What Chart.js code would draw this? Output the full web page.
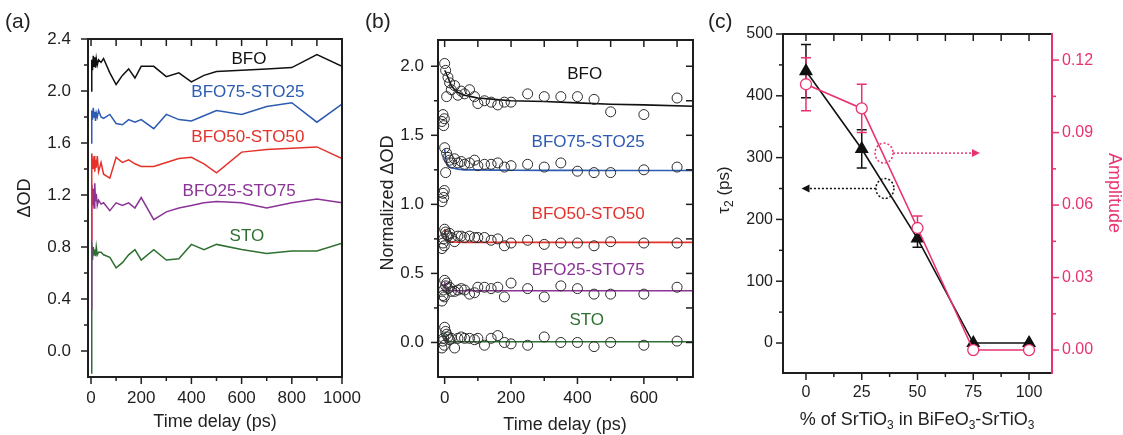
<!DOCTYPE html>
<html>
<head>
<meta charset="utf-8">
<script src="https://cdn.jsdelivr.net/npm/chart.js@4.4.1/dist/chart.umd.min.js"></script>
<style>
  html, body { margin: 0; padding: 0; background: #fff; }
  body { width: 1123px; height: 435px; position: relative; overflow: hidden; font-family: "Liberation Sans", Arial, sans-serif; }
  canvas { position: absolute; top: 0; }
  .tag { position: absolute; top: 9px; font-size: 21px; color: #222; line-height: 24px; }
</style>
</head>
<body>
<canvas id="chartA" width="372" height="435" style="left:0px"></canvas>
<canvas id="chartB" width="333" height="435" style="left:372px"></canvas>
<canvas id="chartC" width="418" height="435" style="left:705px"></canvas>
<div class="tag" style="left:5px">(a)</div>
<div class="tag" style="left:365px">(b)</div>
<div class="tag" style="left:708px">(c)</div>
<script>
const Chart = window.Chart;

// ---------- data: panel (a), raw ΔOD traces ----------
const seriesNames = ["BFO", "BFO75-STO25", "BFO50-STO50", "BFO25-STO75", "STO"];
const timeA = [0, 3, 6, 9, 12, 15, 18, 21, 25, 30, 40, 50, 75, 100, 125, 150, 175, 200, 250, 300, 350, 400, 450, 500, 600, 700, 800, 900, 1000];
const odBFO = [2.00, 2.24, 2.16, 2.27, 2.19, 2.26, 2.18, 2.25, 2.20, 2.24, 2.22, 2.25, 2.14, 2.05, 2.12, 2.17, 2.10, 2.19, 2.19, 2.11, 2.14, 2.07, 2.12, 2.15, 2.16, 2.17, 2.18, 2.28, 2.19];
const odBFO75 = [1.60, 1.85, 1.78, 1.87, 1.80, 1.84, 1.77, 1.83, 1.80, 1.85, 1.80, 1.79, 1.82, 1.75, 1.74, 1.78, 1.76, 1.78, 1.71, 1.82, 1.78, 1.77, 1.81, 1.85, 1.82, 1.88, 1.91, 1.76, 1.90];
const odBFO50 = [0.85, 1.52, 1.45, 1.40, 1.50, 1.38, 1.47, 1.41, 1.50, 1.38, 1.45, 1.36, 1.33, 1.49, 1.45, 1.47, 1.44, 1.42, 1.42, 1.45, 1.48, 1.49, 1.44, 1.37, 1.53, 1.55, 1.56, 1.57, 1.48];
const odBFO25 = [0.32, 1.28, 1.12, 1.25, 1.10, 1.29, 1.15, 1.21, 1.12, 1.16, 1.13, 1.14, 1.08, 1.14, 1.12, 1.14, 1.10, 1.18, 1.01, 1.07, 1.10, 1.12, 1.14, 1.15, 1.14, 1.10, 1.14, 1.17, 1.14];
const odSTO = [-0.17, 0.84, 0.70, 0.80, 0.74, 0.78, 0.73, 0.80, 0.74, 0.76, 0.76, 0.74, 0.72, 0.64, 0.68, 0.74, 0.78, 0.70, 0.78, 0.70, 0.71, 0.82, 0.78, 0.82, 0.78, 0.75, 0.77, 0.77, 0.83];
const xTicksA = [0, 200, 400, 600, 800, 1000];
const xMinorA = [100, 300, 500, 700, 900];
const yTicksA = [0.0, 0.4, 0.8, 1.2, 1.6, 2.0, 2.4];
const yMinorA = [0.2, 0.6, 1.0, 1.4, 1.8, 2.2];

// ---------- data: panel (b), normalized ΔOD + fits ----------
const timeB = [-8, -5, -3, -1, 0, 3, 6, 10, 15, 20, 30, 40, 50, 60, 75, 90, 100, 120, 140, 160, 180, 200, 250, 300, 350, 400, 450, 500, 600, 700];
const circBFO = [1.60, 1.65, 1.57, 1.62, 2.02, 1.97, 1.78, 1.92, 1.88, 1.83, 1.86, 1.79, 1.82, 1.80, 1.83, 1.78, 1.73, 1.75, 1.74, 1.72, 1.74, 1.74, 1.80, 1.78, 1.78, 1.78, 1.76, 1.67, 1.65, 1.77];
const circBFO75 = [1.02, 1.08, 1.05, 1.10, 1.41, 1.23, 1.37, 1.34, 1.32, 1.30, 1.33, 1.30, 1.31, 1.29, 1.30, 1.32, 1.28, 1.29, 1.29, 1.30, 1.27, 1.28, 1.29, 1.27, 1.30, 1.24, 1.23, 1.23, 1.25, 1.27];
const circBFO50 = [0.68, 0.72, 0.75, 0.70, 0.82, 0.80, 0.78, 0.77, 0.79, 0.76, 0.73, 0.77, 0.77, 0.76, 0.77, 0.76, 0.76, 0.76, 0.74, 0.75, 0.70, 0.72, 0.74, 0.71, 0.72, 0.72, 0.70, 0.73, 0.72, 0.72];
const circBFO25 = [0.30, 0.34, 0.38, 0.33, 0.45, 0.41, 0.43, 0.39, 0.40, 0.37, 0.37, 0.38, 0.39, 0.38, 0.35, 0.36, 0.40, 0.40, 0.39, 0.40, 0.33, 0.43, 0.39, 0.33, 0.41, 0.39, 0.35, 0.35, 0.35, 0.40];
const circSTO = [-0.04, 0.01, 0.03, -0.02, 0.11, 0.08, 0.06, 0.04, 0.02, 0.03, -0.04, 0.03, 0.04, 0.03, 0.03, 0.02, 0.03, -0.02, 0.03, 0.05, 0.00, -0.01, -0.02, 0.04, 0.00, 0.00, -0.03, 0.00, -0.02, 0.01];
const fitTime = [0, 3, 6, 10, 15, 20, 30, 40, 60, 80, 100, 150, 200, 300, 400, 500, 600, 748];
const fitBFO = [1.97, 1.96, 1.94, 1.92, 1.89, 1.86, 1.83, 1.81, 1.79, 1.78, 1.77, 1.76, 1.75, 1.745, 1.735, 1.725, 1.72, 1.71];
const fitBFO75 = [1.40, 1.34, 1.30, 1.28, 1.27, 1.265, 1.26, 1.255, 1.25, 1.25, 1.25, 1.248, 1.247, 1.246, 1.246, 1.245, 1.245, 1.245];
const fitBFO50 = [0.82, 0.77, 0.745, 0.735, 0.73, 0.728, 0.727, 0.726, 0.725, 0.725, 0.725, 0.725, 0.725, 0.725, 0.725, 0.725, 0.725, 0.725];
const fitBFO25 = [0.44, 0.40, 0.385, 0.38, 0.377, 0.376, 0.375, 0.375, 0.375, 0.375, 0.375, 0.375, 0.375, 0.375, 0.375, 0.375, 0.375, 0.375];
const fitSTO = [0.06, 0.03, 0.015, 0.01, 0.007, 0.006, 0.005, 0.005, 0.005, 0.005, 0.005, 0.005, 0.005, 0.005, 0.005, 0.005, 0.005, 0.005];
const xTicksB = [0, 200, 400, 600];
const xMinorB = [100, 300, 500, 700];
const yTicksB = [0.0, 0.5, 1.0, 1.5, 2.0];
const yMinorB = [0.25, 0.75, 1.25, 1.75];

// ---------- data: panel (c), tau2 and amplitude vs STO fraction ----------
const pctSTO = [0, 25, 50, 75, 100];
const tau2 = [440, 314, 169, 0, 0];
const tau2Err = [43, 31, 14, 0, 0];
const amplitude = [0.110, 0.100, 0.0505, 0.0, 0.0];
const amplitudeErr = [0.011, 0.010, 0.005, 0, 0];
const xTicksC = [0, 25, 50, 75, 100];
const xMinorC = [12.5, 37.5, 62.5, 87.5];
const yTicksC = [0, 100, 200, 300, 400, 500];
const yMinorC = [50, 150, 250, 350, 450];
const y1TicksC = [0.0, 0.03, 0.06, 0.09, 0.12];
const y1MinorC = [0.015, 0.045, 0.075, 0.105];

// ---------- styling ----------
const FONT = '"Liberation Sans", Arial, sans-serif';
const INK = "#1e1e1e";
const PINK = "#e8336f";
const COLORS = ["#111111", "#2c5bb3", "#e4322b", "#8b3396", "#2e7031"];

const pts = (xs, ys) => xs.map((x, i) => ({ x, y: ys[i] }));

function linearAxis({ min, max, ticks, fmt, size, pad, horizontal = false, position, color = INK, fontSize = 17 }) {
  return {
    type: "linear",
    position,
    min,
    max,
    grid: { display: false, drawTicks: false },
    border: { display: false },
    afterBuildTicks: (s) => { s.ticks = ticks.map((v) => ({ value: v })); },
    afterFit: (s) => { if (horizontal) s.height = size; else s.width = size; },
    ticks: { padding: pad, color, autoSkip: false, maxRotation: 0, font: { family: FONT, size: fontSize }, callback: fmt },
  };
}

// box frame + major/minor tick marks, drawn through the scales
const frameTicks = {
  id: "frameTicks",
  afterDatasetsDraw(chart, args, opts) {
    const { ctx, chartArea: a } = chart;
    ctx.save();
    for (const side of opts.sides || []) {
      const s = chart.scales[side.scale];
      const vertical = side.pos === "left" || side.pos === "right";
      const edge = a[side.pos];
      const outSign = side.pos === "left" || side.pos === "top" ? -1 : 1;
      const sign = side.inward ? -outSign : outSign;
      ctx.strokeStyle = side.color || INK;
      ctx.lineWidth = 2;
      ctx.beginPath();
      if (vertical) { ctx.moveTo(edge, a.top - 1); ctx.lineTo(edge, a.bottom + 1); }
      else { ctx.moveTo(a.left - 1, edge); ctx.lineTo(a.right + 1, edge); }
      ctx.stroke();
      ctx.lineWidth = 1.5;
      const mark = (vals, len) => {
        for (const v of vals || []) {
          const p = s.getPixelForValue(v);
          ctx.beginPath();
          if (vertical) { ctx.moveTo(edge, p); ctx.lineTo(edge + sign * len, p); }
          else { ctx.moveTo(p, edge); ctx.lineTo(p, edge + sign * len); }
          ctx.stroke();
        }
      };
      mark(side.major, 7);
      mark(side.minor, 4);
    }
    ctx.restore();
  },
};

// sample names written inside the plot, anchored in data units
const seriesText = {
  id: "seriesText",
  afterDatasetsDraw(chart, args, opts) {
    const { ctx, scales } = chart;
    ctx.save();
    ctx.font = `17px ${FONT}`;
    ctx.textAlign = "center";
    ctx.textBaseline = "middle";
    for (const it of opts.items || []) {
      ctx.fillStyle = it.color;
      ctx.fillText(it.text, scales.x.getPixelForValue(it.x), scales.y.getPixelForValue(it.y));
    }
    ctx.restore();
  },
};

// axis titles with optional subscripts, offset from the chart area corner
const richTitles = {
  id: "richTitles",
  afterDraw(chart, args, opts) {
    const { ctx, chartArea: a } = chart;
    for (const t of opts.items || []) {
      const size = t.size || 18;
      const fontFor = (sub) => `${sub ? Math.round(size * 0.68) : size}px ${FONT}`;
      ctx.save();
      let total = 0;
      for (const [txt, sub] of t.parts) { ctx.font = fontFor(sub); total += ctx.measureText(txt).width; }
      ctx.translate(a.left + t.dx, a.top + t.dy);
      ctx.rotate(((t.rot || 0) * Math.PI) / 180);
      ctx.fillStyle = t.color || "#222";
      ctx.textAlign = "left";
      ctx.textBaseline = "middle";
      let x = -total / 2;
      for (const [txt, sub] of t.parts) {
        ctx.font = fontFor(sub);
        ctx.fillText(txt, x, sub ? size * 0.32 : 0);
        x += ctx.measureText(txt).width;
      }
      ctx.restore();
    }
  },
};

const errorBars = {
  id: "errorBars",
  beforeDatasetsDraw(chart, args, opts) {
    const { ctx, scales } = chart;
    ctx.save();
    ctx.lineWidth = 1.5;
    for (const b of opts.bars || []) {
      const ys = scales[b.axis];
      ctx.strokeStyle = b.color;
      b.x.forEach((xv, i) => {
        const e = b.err[i];
        if (!e) return;
        const px = scales.x.getPixelForValue(xv);
        const top = ys.getPixelForValue(b.y[i] + e);
        const bot = ys.getPixelForValue(b.y[i] - e);
        ctx.beginPath();
        ctx.moveTo(px, top); ctx.lineTo(px, bot);
        ctx.moveTo(px - 5, top); ctx.lineTo(px + 5, top);
        ctx.moveTo(px - 5, bot); ctx.lineTo(px + 5, bot);
        ctx.stroke();
      });
    }
    ctx.restore();
  },
};

// dotted circle + dotted arrow telling which axis a curve belongs to
const pointers = {
  id: "pointers",
  afterDatasetsDraw(chart, args, opts) {
    const { ctx, scales } = chart;
    for (const p of opts.items || []) {
      const ys = scales[p.axis];
      const cx = scales.x.getPixelForValue(p.x);
      const cy = ys.getPixelForValue(p.y);
      const tip = scales.x.getPixelForValue(p.toX);
      const dir = Math.sign(tip - cx);
      ctx.save();
      ctx.strokeStyle = p.color;
      ctx.fillStyle = p.color;
      ctx.lineWidth = 1.5;
      ctx.setLineDash([2, 2]);
      ctx.beginPath();
      ctx.ellipse(cx, cy, 9, 10, 0, 0, Math.PI * 2);
      ctx.stroke();
      ctx.beginPath();
      ctx.moveTo(cx + dir * 9, cy);
      ctx.lineTo(tip - dir * 7, cy);
      ctx.stroke();
      ctx.setLineDash([]);
      ctx.beginPath();
      ctx.moveTo(tip, cy);
      ctx.lineTo(tip - dir * 8, cy - 4);
      ctx.lineTo(tip - dir * 8, cy + 4);
      ctx.closePath();
      ctx.fill();
      ctx.restore();
    }
  },
};

const base = {
  responsive: false,
  animation: false,
  devicePixelRatio: 1,
};
const quiet = { legend: { display: false }, tooltip: { enabled: false } };
const fmt1 = (v) => Number(v).toFixed(1);
const fmt0 = (v) => String(v);

// ---------- (a) ----------
new Chart(document.getElementById("chartA"), {
  type: "line",
  data: {
    datasets: [odBFO, odBFO75, odBFO50, odBFO25, odSTO].map((vals, i) => ({
      label: seriesNames[i],
      data: pts(timeA, vals),
      borderColor: COLORS[i],
      borderWidth: 1.5,
      pointRadius: 0,
      tension: 0,
    })),
  },
  options: {
    ...base,
    layout: { padding: { top: 39, right: 30, left: 0, bottom: 0 } },
    scales: {
      x: linearAxis({ min: -12, max: 1000, ticks: xTicksA, fmt: fmt0, size: 58, pad: 11, horizontal: true }),
      y: linearAxis({ min: -0.2, max: 2.4, ticks: yTicksA, fmt: fmt1, size: 88, pad: 17 }),
    },
    plugins: {
      ...quiet,
      frameTicks: {
        sides: [
          { pos: "left", scale: "y", major: yTicksA, minor: yMinorA },
          { pos: "bottom", scale: "x", major: xTicksA, minor: xMinorA },
          { pos: "top", scale: "x", inward: true, major: xTicksA.concat(xMinorA) },
          { pos: "right", scale: "y" },
        ],
      },
      seriesText: {
        items: [
          { text: seriesNames[0], x: 629, y: 2.245, color: COLORS[0] },
          { text: seriesNames[1], x: 625, y: 1.99, color: COLORS[1] },
          { text: seriesNames[2], x: 625, y: 1.64, color: COLORS[2] },
          { text: seriesNames[3], x: 590, y: 1.23, color: COLORS[3] },
          { text: seriesNames[4], x: 621, y: 0.885, color: COLORS[4] },
        ],
      },
      richTitles: {
        items: [
          { parts: [["ΔOD"]], dx: -63, dy: 159, rot: -90 },
          { parts: [["Time delay (ps)"]], dx: 127, dy: 383 },
        ],
      },
    },
  },
  plugins: [frameTicks, seriesText, richTitles],
});

// ---------- (b) ----------
const circleSets = [circBFO, circBFO75, circBFO50, circBFO25, circSTO];
const fitSets = [fitBFO, fitBFO75, fitBFO50, fitBFO25, fitSTO];
new Chart(document.getElementById("chartB"), {
  type: "scatter",
  data: {
    datasets: [
      ...circleSets.map((vals, i) => ({
        label: seriesNames[i] + " data",
        data: pts(timeB, vals),
        pointRadius: 5,
        pointBorderWidth: 1,
        pointBorderColor: "#2a2a2a",
        pointBackgroundColor: "rgba(255,255,255,0)",
        showLine: false,
      })),
      ...fitSets.map((vals, i) => ({
        label: seriesNames[i] + " fit",
        data: pts(fitTime, vals),
        borderColor: COLORS[i],
        borderWidth: 1.6,
        pointRadius: 0,
        showLine: true,
        tension: 0,
      })),
    ],
  },
  options: {
    ...base,
    layout: { padding: { top: 40, right: 12, left: 0, bottom: 0 } },
    scales: {
      x: linearAxis({ min: -20, max: 748, ticks: xTicksB, fmt: fmt0, size: 58, pad: 11, horizontal: true }),
      y: linearAxis({ min: -0.25, max: 2.19, ticks: yTicksB, fmt: fmt1, size: 66, pad: 14 }),
    },
    plugins: {
      ...quiet,
      frameTicks: {
        sides: [
          { pos: "left", scale: "y", major: yTicksB, minor: yMinorB },
          { pos: "right", scale: "y", inward: true, major: yTicksB.concat(yMinorB) },
          { pos: "bottom", scale: "x", major: xTicksB, minor: xMinorB },
          { pos: "top", scale: "x", inward: true, major: xTicksB.concat(xMinorB) },
        ],
      },
      seriesText: {
        items: [
          { text: seriesNames[0], x: 422, y: 1.94, color: COLORS[0] },
          { text: seriesNames[1], x: 432, y: 1.45, color: COLORS[1] },
          { text: seriesNames[2], x: 432, y: 0.93, color: COLORS[2] },
          { text: seriesNames[3], x: 432, y: 0.525, color: COLORS[3] },
          { text: seriesNames[4], x: 428, y: 0.16, color: COLORS[4] },
        ],
      },
      richTitles: {
        items: [
          { parts: [["Normalized ΔOD"]], dx: -50, dy: 163, rot: -90 },
          { parts: [["Time delay (ps)"]], dx: 127, dy: 385 },
        ],
      },
    },
  },
  plugins: [frameTicks, seriesText, richTitles],
});

// ---------- (c) ----------
new Chart(document.getElementById("chartC"), {
  type: "line",
  data: {
    datasets: [
      {
        label: "Amplitude",
        yAxisID: "y1",
        data: pts(pctSTO, amplitude),
        borderColor: PINK,
        borderWidth: 1.6,
        pointStyle: "circle",
        pointRadius: 5.5,
        pointBorderWidth: 1.3,
        pointBorderColor: PINK,
        pointBackgroundColor: "#fff",
        tension: 0,
      },
      {
        label: "tau2",
        yAxisID: "y",
        data: pts(pctSTO, tau2),
        borderColor: "#111",
        borderWidth: 1.6,
        pointStyle: "triangle",
        pointRadius: 6.5,
        pointBorderColor: "#111",
        pointBackgroundColor: "#111",
        tension: 0,
      },
    ],
  },
  options: {
    ...base,
    layout: { padding: { top: 34, right: 0, left: 0, bottom: 0 } },
    scales: {
      x: linearAxis({ min: -10.3, max: 110.3, ticks: xTicksC, fmt: fmt0, size: 62, pad: 10, horizontal: true, fontSize: 16 }),
      y: linearAxis({ min: -48.5, max: 500, ticks: yTicksC, fmt: fmt0, size: 78, pad: 10, position: "left", fontSize: 16 }),
      y1: linearAxis({ min: -0.0095, max: 0.1308, ticks: y1TicksC, fmt: (v) => Number(v).toFixed(2), size: 71, pad: 10, position: "right", color: PINK, fontSize: 16 }),
    },
    plugins: {
      ...quiet,
      frameTicks: {
        sides: [
          { pos: "left", scale: "y", major: yTicksC, minor: yMinorC },
          { pos: "bottom", scale: "x", major: xTicksC, minor: xMinorC },
          { pos: "top", scale: "x", inward: true, major: xTicksC.concat(xMinorC) },
          { pos: "right", scale: "y1", color: PINK, major: y1TicksC, minor: y1MinorC },
        ],
      },
      errorBars: {
        bars: [
          { axis: "y", x: pctSTO, y: tau2, err: tau2Err, color: "#111" },
          { axis: "y1", x: pctSTO, y: amplitude, err: amplitudeErr, color: PINK },
        ],
      },
      pointers: {
        items: [
          { axis: "y1", x: 35, y: 0.0815, toX: 78, color: PINK },
          { axis: "y", x: 35.4, y: 250, toX: -2, color: "#111" },
        ],
      },
      richTitles: {
        items: [
          { parts: [["τ"], ["2", true], [" (ps)"]], dx: -59, dy: 156, rot: -90, size: 17 },
          { parts: [["Amplitude"]], dx: 331, dy: 159, rot: 90, color: PINK },
          { parts: [["% of SrTiO"], ["3", true], [" in BiFeO"], ["3", true], ["-SrTiO"], ["3", true]], dx: 134, dy: 386 },
        ],
      },
    },
  },
  plugins: [errorBars, frameTicks, pointers, richTitles],
});
</script>
</body>
</html>
